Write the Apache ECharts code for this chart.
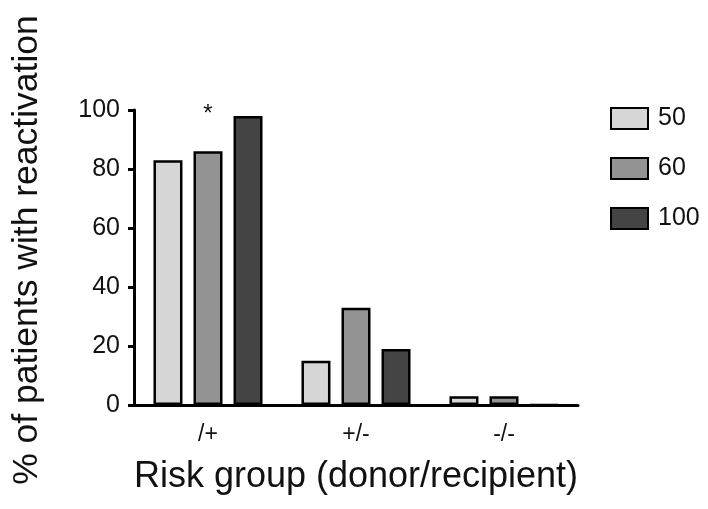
<!DOCTYPE html>
<html>
<head>
<meta charset="utf-8">
<script src="https://cdn.jsdelivr.net/npm/echarts@6/dist/echarts.min.js"></script>
<style>html,body{margin:0;padding:0;background:#fff}#c{width:708px;height:509px}</style>
</head>
<body>
<div id="c"></div>
<script>
const categories = ['/+', '+/-', '-/-'];
const seriesNames = ['50', '60', '100'];
const values50 = [83, 15, 3];
const values60 = [86, 33, 3];
const values100 = [98, 19, 0];
const yTicks = [0, 20, 40, 60, 80, 100];

const colors = ['#d6d6d6', '#939393', '#444444'];
const font = 'Liberation Sans, Arial, sans-serif';
const chart = echarts.init(document.getElementById('c'));
const dataSets = [values50, values60, values100];
chart.setOption({
  animation: false,
  grid: {left: 134, right: 130, top: 110, bottom: 104},
  legend: {
    orient: 'vertical', left: 605, top: 101,
    icon: 'rect',
    itemWidth: 37, itemHeight: 21, itemGap: 25,
    textStyle: {fontFamily: font, fontSize: 25, color: '#111', padding: [0, 0, 0, 5]},
    data: seriesNames
  },
  xAxis: {
    type: 'category', data: categories,
    axisLine: {lineStyle: {color: '#000', width: 3}},
    axisTick: {alignWithLabel: true, length: 7, lineStyle: {color: '#000', width: 3}},
    axisLabel: {fontFamily: font, fontSize: 23, color: '#111', margin: 18},
    name: 'Risk group (donor/recipient)', nameLocation: 'middle', nameGap: 54,
    nameTextStyle: {fontFamily: font, fontSize: 36, color: '#111'}
  },
  yAxis: {
    type: 'value', min: 0, max: 100, interval: 20,
    axisLine: {show: true, lineStyle: {color: '#000', width: 3}},
    axisTick: {show: true, length: 6, lineStyle: {color: '#000', width: 3}},
    axisLabel: {fontFamily: font, fontSize: 25, color: '#111', margin: 14,
      formatter: v => yTicks.includes(v) ? String(v) : ''},
    splitLine: {show: false},
    name: '% of patients with reactivation', nameLocation: 'middle', nameGap: 89,
    nameTextStyle: {fontFamily: font, fontSize: 35.5, color: '#111', padding: [0, 0, 0, 15]}
  },
  series: seriesNames.map((n, i) => ({
    name: n, type: 'bar', data: dataSets[i],
    barWidth: 29, barGap: '38%',
    itemStyle: {color: colors[i], borderColor: '#000', borderWidth: 2.5},
    markPoint: i === 1 ? {
      symbol: 'circle', symbolSize: 0,
      data: [{coord: [0, 100], label: {show: true, formatter: '*', fontFamily: font, fontSize: 24, color: '#111', offset: [0, 4]}}]
    } : undefined
  }))
});
</script>
</body>
</html>
